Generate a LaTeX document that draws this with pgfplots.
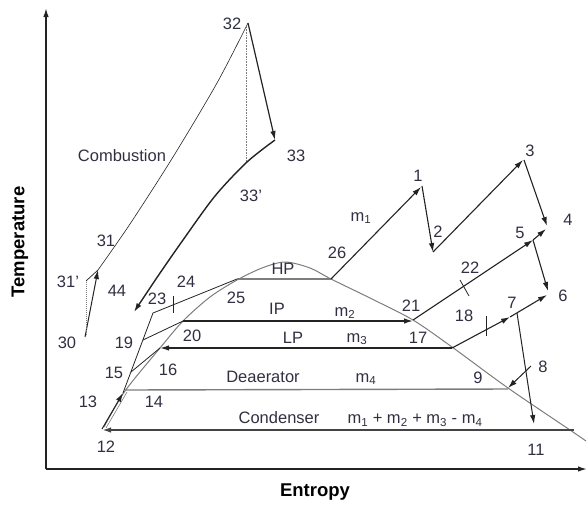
\documentclass[border=0pt]{standalone}
\usepackage{pgfplots}
\pgfplotsset{compat=1.18}
\usepackage{fontspec}
\setmainfont{Liberation Sans}
\usetikzlibrary{arrows.meta}
\definecolor{ink}{RGB}{48,48,66}
\definecolor{ln}{RGB}{35,35,35}
\definecolor{gl}{RGB}{125,125,125}
\tikzset{
  arr/.style={-{Latex[length=9pt,width=5.5pt]}},
  lab/.style={text=ink, inner sep=0pt, font=\fontsize{16.5}{18}\selectfont},
}
\begin{document}
\begin{tikzpicture}
\begin{axis}[
  scale only axis, width=588pt, height=504pt,
  xmin=0, xmax=588, ymin=0, ymax=504, y dir=reverse,
  hide axis, clip=false,
]
\addplot[draw=none] coordinates {(0,0) (588,504)};
% axes
\addplot[ln, line width=1.5pt, arr] coordinates {(46,469) (46,8)};
\addplot[ln, line width=1.5pt, arr] coordinates {(46,469) (587,469)};

% gas side
\addplot[ln, line width=1pt, arr] coordinates {(85,337) (98,270)};
\addplot[gl, densely dotted, line width=1pt] coordinates {(86,335) (86,281)};
\addplot[ln, line width=0.7pt] coordinates {(86,281) (98,270)};
\addplot[ln, line width=0.6pt, smooth] coordinates {(98,270) (130,224) (173,157) (217,83) (248,23)};
\addplot[ln, line width=1.2pt, arr] coordinates {(248,23) (275,140)};
\addplot[gl, densely dotted, line width=0.6pt] coordinates {(246,27) (246,162)};
\addplot[ln, line width=1.4pt, smooth, arr] coordinates {(275,140) (247,162) (215,196) (183,240) (158,276) (134,312)};

% saturation dome
\addplot[gl, line width=1pt, smooth, tension=0.5] coordinates {
  (104,427) (125,391) (160,348) (183,321) (210,297) (237,280) (262,268)
  (285,262) (310,268) (331,279) (372,299) (413,320) (452,347) (508,388) (570,430) (586,441)};

% pressure levels
\addplot[gl, line width=1.4pt] coordinates {(237,279) (331,279)};
\addplot[ln, line width=1.4pt, arr] coordinates {(183,321) (413,321)};
\addplot[ln, line width=1.4pt, arr] coordinates {(452,348) (160,348)};
\addplot[gl, line width=1.4pt] coordinates {(125,390) (508,389)};
\addplot[ln!85, line width=1.7pt, arr] coordinates {(574,430) (102,430)};

% feed water heating
\addplot[ln, line width=1pt, arr] coordinates {(102,429) (123,393)};
\addplot[gl, line width=0.6pt] coordinates {(106,428) (127,392)};
\addplot[ln, line width=0.8pt] coordinates {(123,393) (153,313) (237,279)};
\addplot[ln, line width=0.8pt] coordinates {(173,296) (173,313)};
\addplot[ln, line width=0.8pt] coordinates {(143,340) (183,321)};
\addplot[ln, line width=0.8pt] coordinates {(131,372) (160,348)};

% steam expansion and reheat
\addplot[ln, line width=1.1pt, arr] coordinates {(331,279) (421,187)};
\addplot[ln, line width=1.1pt, arr] coordinates {(422,186) (433,252)};
\addplot[ln, line width=1.1pt, arr] coordinates {(433,252) (523,160)};
\addplot[ln, line width=1.1pt, arr] coordinates {(524,160) (547,226)};
\addplot[ln, line width=1.1pt, arr] coordinates {(413,320) (533,240)};
\addplot[ln, line width=0.8pt] coordinates {(460,280) (469,296)};
\addplot[ln, line width=1.1pt, arr] coordinates {(533,240) (546,229)};
\addplot[ln, line width=1.1pt, arr] coordinates {(533,240) (548,291)};
\addplot[ln, line width=1.1pt, arr] coordinates {(452,348) (510,317)};
\addplot[ln, line width=1.1pt, arr] coordinates {(510,317) (547,295)};
\addplot[ln, line width=0.8pt] coordinates {(486,316) (486,336)};
\addplot[ln, line width=1pt, arr] coordinates {(517,313) (534,424)};
\addplot[ln, line width=1pt, arr] coordinates {(531,366) (508,388)};

% labels
\node[lab] at (232,24) {32};
\node[lab] at (122,156) {Combustion};
\node[lab] at (296,156) {33};
\node[lab] at (251,196) {33'};
\node[lab] at (106,241) {31};
\node[lab] at (68,282) {31'};
\node[lab] at (117,291) {44};
\node[lab] at (67,343) {30};
\node[lab] at (186,282) {24};
\node[lab] at (157,299) {23};
\node[lab] at (236,298) {25};
\node[lab] at (124,343) {19};
\node[lab] at (192,336) {20};
\node[lab] at (114,373) {15};
\node[lab] at (168,370) {16};
\node[lab] at (88,402) {13};
\node[lab] at (154,402) {14};
\node[lab] at (106,447) {12};
\node[lab] at (283,269) {HP};
\node[lab] at (277,309) {IP};
\node[lab] at (293,338) {LP};
\node[lab] at (263,377) {Deaerator};
\node[lab] at (279,418) {Condenser};
\node[lab] at (361,218) {m\textsubscript{1}};
\node[lab] at (337,253) {26};
\node[lab] at (418,176) {1};
\node[lab] at (438,232) {2};
\node[lab] at (530,151) {3};
\node[lab] at (568,220) {4};
\node[lab] at (520,233) {5};
\node[lab] at (470,268) {22};
\node[lab] at (411,306) {21};
\node[lab] at (563,296) {6};
\node[lab] at (464,316) {18};
\node[lab] at (512,303) {7};
\node[lab] at (345,313) {m\textsubscript{2}};
\node[lab] at (418,338) {17};
\node[lab] at (357,339) {m\textsubscript{3}};
\node[lab] at (366,379) {m\textsubscript{4}};
\node[lab] at (478,378) {9};
\node[lab] at (543,367) {8};
\node[lab] at (415,420) {m\textsubscript{1} + m\textsubscript{2} + m\textsubscript{3} - m\textsubscript{4}};
\node[lab] at (536,450) {11};
\node[lab, text=black, font=\fontsize{18.5}{21}\selectfont\bfseries, rotate=90] at (20,242) {Temperature};
\node[lab, text=black, font=\fontsize{18.5}{21}\selectfont\bfseries] at (315,492) {Entropy};
\end{axis}
\end{tikzpicture}
\end{document}
